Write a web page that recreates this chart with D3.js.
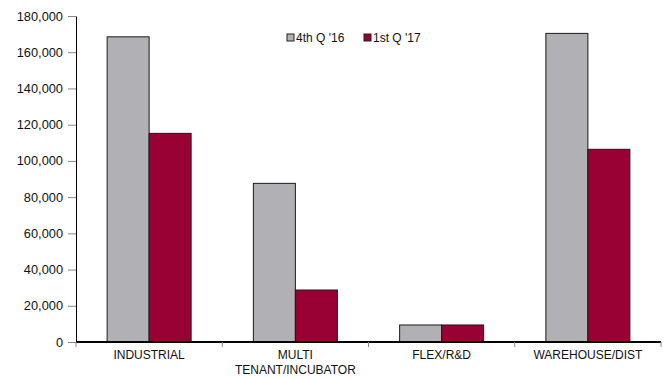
<!DOCTYPE html>
<html>
<head>
<meta charset="utf-8">
<script src="https://cdn.jsdelivr.net/npm/d3@7"></script>
<style>
  body { margin: 0; background: #fff; }
  svg { display: block; font-family: "Liberation Sans", Arial, sans-serif; }
</style>
</head>
<body>
<div id="viz"></div>
<script>
let w = 663;
let h = 378;
let margin = {top: 16, right: 2, bottom: 36, left: 76};

let categories = ["INDUSTRIAL", "MULTI TENANT/INCUBATOR", "FLEX/R&D", "WAREHOUSE/DIST"];
let catLines = [["INDUSTRIAL"], ["MULTI", "TENANT/INCUBATOR"], ["FLEX/R&D"], ["WAREHOUSE/DIST"]];
let seriesNames = ["4th Q '16", "1st Q '17"];
let q4_16 = [168500, 87600, 9400, 170400];
let q1_17 = [115200, 28700, 9400, 106400];
let yTicks = [0, 20000, 40000, 60000, 80000, 100000, 120000, 140000, 160000, 180000];
let colors = ["#b1b1b5", "#990033"];

let svg = d3.select("#viz").append("svg")
    .attr("width", w)
    .attr("height", h);

let x = d3.scaleBand().domain(categories).range([margin.left, w - margin.right]);
let xs = d3.scaleBand().domain(seriesNames).range([0, 84]);
let y = d3.scaleLinear().domain([0, 180000]).range([h - margin.bottom, margin.top]);

// y axis
let yAxis = d3.axisLeft(y).tickValues(yTicks).tickSize(8).tickSizeOuter(0)
    .tickFormat(d3.format(","));
let gy = svg.append("g").attr("transform", "translate(" + margin.left + ",0)").call(yAxis);
gy.select(".domain").attr("stroke", "#000");
gy.selectAll(".tick line").attr("stroke", "#888");
gy.selectAll(".tick text").attr("font-size", "12.8px").attr("fill", "#111").attr("x", -13)
    .attr("font-family", "Liberation Sans, Arial, sans-serif");

// bars
let data = categories.map((c, i) => ({cat: c, vals: [q4_16[i], q1_17[i]]}));
let groups = svg.append("g").selectAll("g").data(data).enter().append("g")
    .attr("transform", d => "translate(" + (x(d.cat) + x.bandwidth() / 2 - 42) + ",0)");
groups.selectAll("rect").data(d => d.vals.map((v, j) => ({s: seriesNames[j], v: v, j: j})))
    .enter().append("rect")
    .attr("x", d => xs(d.s))
    .attr("width", xs.bandwidth())
    .attr("y", d => y(d.v))
    .attr("height", d => y(0) - y(d.v))
    .attr("fill", d => colors[d.j])
    .attr("stroke", "#1a1a1a")
    .attr("stroke-width", 1);

// x axis
let gx = svg.append("g").attr("transform", "translate(0," + y(0) + ")");
gx.append("line").attr("x1", margin.left).attr("x2", w - margin.right)
    .attr("stroke", "#000").attr("stroke-width", 2);
let bounds = categories.map(c => x(c)).concat([x(categories[3]) + x.bandwidth()]);
gx.selectAll(".xt").data(bounds).enter().append("line")
    .attr("x1", d => d).attr("x2", d => d).attr("y1", 0).attr("y2", 5)
    .attr("stroke", "#888");
categories.forEach((c, i) => {
  let t = gx.append("text")
      .attr("x", x(c) + x.bandwidth() / 2)
      .attr("y", 17)
      .attr("text-anchor", "middle")
      .attr("font-size", "12px")
      .attr("fill", "#111");
  catLines[i].forEach((ln, k) => {
    t.append("tspan").attr("x", x(c) + x.bandwidth() / 2).attr("dy", k === 0 ? 0 : 15).text(ln);
  });
});

// legend
let legendX = [287, 364];
let lg = svg.append("g");
seriesNames.forEach((s, i) => {
  lg.append("rect").attr("x", legendX[i]).attr("y", 34).attr("width", 7).attr("height", 7)
      .attr("fill", colors[i]).attr("stroke", "#222");
  lg.append("text").attr("x", legendX[i] + 9).attr("y", 42)
      .attr("font-size", "12px").attr("fill", "#111").text(s);
});
</script>
</body>
</html>
